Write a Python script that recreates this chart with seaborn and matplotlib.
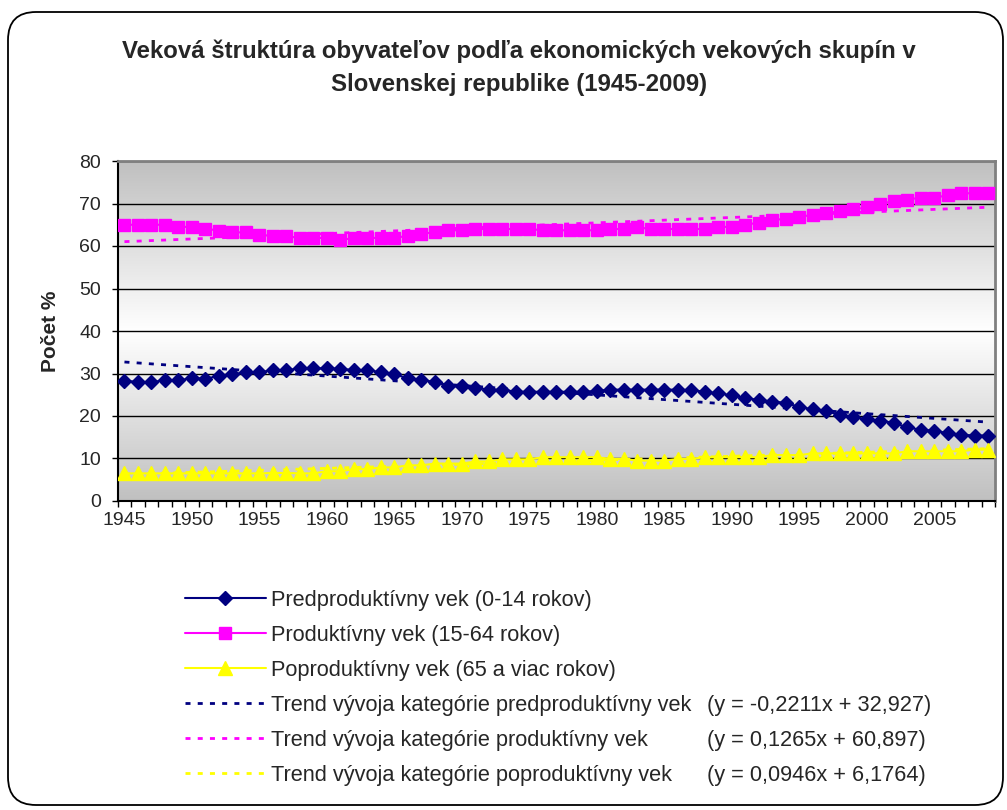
import numpy as np
import pandas as pd
import matplotlib.pyplot as plt
from matplotlib.colors import LinearSegmentedColormap
from matplotlib.patches import FancyBboxPatch
from matplotlib.transforms import IdentityTransform
import seaborn as sns

# data (share of population in %)
years = list(range(1945, 2010))
pre_productive = [28.3, 28.0, 28.0, 28.4, 28.4, 28.9, 28.8, 29.4, 29.8, 30.3,
                  30.3, 30.8, 30.8, 31.2, 31.2, 31.2, 31.1, 30.8, 30.8, 30.3,
                  29.8, 28.9, 28.5, 28.0, 27.1, 27.0, 26.7, 26.2, 26.2, 25.7,
                  25.7, 25.7, 25.7, 25.7, 25.7, 25.9, 26.2, 26.2, 26.2, 26.2,
                  26.2, 26.2, 26.1, 25.7, 25.3, 24.9, 24.2, 23.8, 23.4, 23.1,
                  22.1, 21.6, 21.2, 20.2, 19.7, 19.3, 18.9, 18.4, 17.3, 16.8,
                  16.5, 16.0, 15.6, 15.4, 15.4]
productive = [65.0, 65.0, 65.0, 65.0, 64.5, 64.5, 64.1, 63.6, 63.2, 63.2,
              62.7, 62.3, 62.3, 61.9, 61.9, 61.9, 61.4, 61.9, 61.9, 61.9,
              61.9, 62.4, 62.8, 63.3, 63.7, 63.7, 64.0, 64.0, 64.0, 64.0,
              64.0, 63.7, 63.7, 63.7, 63.7, 63.7, 64.0, 64.0, 64.4, 64.0,
              64.0, 64.0, 64.0, 64.0, 64.5, 64.5, 65.0, 65.5, 66.1, 66.4,
              66.9, 67.3, 67.7, 68.2, 68.6, 69.1, 70.0, 70.5, 70.9, 71.4,
              71.4, 71.9, 72.4, 72.4, 72.4]
post_productive = [6.5, 6.5, 6.5, 6.5, 6.5, 6.5, 6.5, 6.5, 6.5, 6.5,
                   6.5, 6.6, 6.6, 6.5, 6.5, 7.0, 7.0, 7.5, 7.5, 7.9,
                   7.9, 8.4, 8.4, 8.8, 8.8, 8.8, 9.3, 9.3, 9.8, 9.8,
                   9.8, 10.3, 10.3, 10.3, 10.3, 10.3, 9.9, 9.9, 9.5, 9.5,
                   9.5, 9.9, 9.9, 10.3, 10.3, 10.3, 10.3, 10.3, 10.8, 10.8,
                   10.8, 11.2, 11.2, 11.2, 11.2, 11.2, 11.2, 11.2, 11.7, 11.7,
                   11.7, 11.7, 11.7, 12.1, 12.1]

series_labels = ["Predproduktívny vek (0-14 rokov)",
                 "Produktívny vek (15-64 rokov)",
                 "Poproduktívny vek (65 a viac rokov)"]
trend_labels = ["Trend vývoja kategórie predproduktívny vek",
                "Trend vývoja kategórie produktívny vek",
                "Trend vývoja kategórie poproduktívny vek"]
trend_slopes = [-0.2211, 0.1265, 0.0946]
trend_intercepts = [32.927, 60.897, 6.1764]
trend_equations = ["(y = -0,2211x + 32,927)",
                   "(y = 0,1265x + 60,897)",
                   "(y = 0,0946x + 6,1764)"]

colors = ["#000080", "#ff00ff", "#ffff00"]
markers = ["D", "s", "^"]
marker_sizes = [7.5, 9, 9.5]

df = pd.DataFrame({"Rok": years,
                   "pre": pre_productive,
                   "prod": productive,
                   "post": post_productive})
df["x"] = np.arange(1, len(df) + 1)

sns.set_style("white")
plt.rcParams["font.family"] = ["Liberation Sans", "DejaVu Sans"]

W, H = 1007, 810
fig = plt.figure(figsize=(W / 100, H / 100), dpi=100)
ax = fig.add_axes([117.7 / W, 1 - 501 / H, (995 - 117.7) / W, (501 - 161) / H])

# grey-white-grey gradient of the plot area
bg = LinearSegmentedColormap.from_list("bg", ["#c0c0c0", "#ffffff", "#c0c0c0"])
ax.imshow(np.linspace(0, 1, 256).reshape(-1, 1), extent=[0, 1, 0, 1],
          transform=ax.transAxes, aspect="auto", cmap=bg, zorder=0)

# linear trend lines (coefficients from the chart legend)
for col, slope, icpt, c, lab in zip(["pre", "prod", "post"], trend_slopes,
                                    trend_intercepts, colors, trend_labels):
    df["trend_" + col] = slope * df["x"] + icpt
    sns.lineplot(data=df, x="Rok", y="trend_" + col, color=c, linewidth=2,
                 linestyle=(0, (1.8, 2.6)), ax=ax, label=lab, zorder=2)

for col, c, m, ms, lab in zip(["pre", "prod", "post"], colors, markers,
                              marker_sizes, series_labels):
    sns.lineplot(data=df, x="Rok", y=col, color=c, marker=m, markersize=ms,
                 markeredgecolor=c, markeredgewidth=1, linewidth=1.5,
                 ax=ax, label=lab, zorder=3)

handles, labels = ax.get_legend_handles_labels()
ax.get_legend().remove()
order = [3, 4, 5, 0, 1, 2]
handles = [handles[i] for i in order]
labels = [labels[i] for i in order]

ax.set_xlim(1944.5, 2009.5)
ax.set_ylim(0, 80)
ax.set_xticks(range(1945, 2010, 5))
ax.set_xticks(np.arange(1944.5, 2010, 1), minor=True)
ax.set_yticks(range(0, 81, 10))
ax.tick_params(axis="x", which="major", length=0, labelsize=14, pad=8)
ax.tick_params(axis="x", which="minor", bottom=True, length=4, width=1,
               color="black", direction="out")
ax.tick_params(axis="y", left=True, length=4, width=1, color="black",
               direction="out", labelsize=14, pad=8)
ax.yaxis.grid(True, color="black", linewidth=1)
ax.xaxis.grid(False)
ax.set_axisbelow(True)
ax.set_xlabel("")
ax.set_ylabel("")
for s in ["left", "bottom"]:
    ax.spines[s].set_color("black")
    ax.spines[s].set_linewidth(1.5)
for s in ["top", "right"]:
    ax.spines[s].set_color("#808080")
    ax.spines[s].set_linewidth(2)

fig.text(50 / W, 1 - 331 / H, "Počet %", rotation=90, fontsize=15,
         fontweight="bold", ha="center", va="center")

fig.text(519 / W, 1 - 68 / H,
         "Veková štruktúra obyvateľov podľa ekonomických vekových skupín v\n"
         "Slovenskej republike (1945-2009)",
         ha="center", va="center", fontsize=17.3, fontweight="bold",
         linespacing=1.55)

leg = fig.legend(handles, labels, loc="upper left",
                 bbox_to_anchor=(185 / W, 1 - 590 / H), frameon=False,
                 fontsize=15.7, handlelength=3.7, handletextpad=0.25,
                 labelspacing=0.64, borderpad=0, borderaxespad=0, numpoints=1)

# equations aligned in a column next to the trend entries
fig.canvas.draw()
for txt, eq in zip(leg.get_texts()[3:], trend_equations):
    bb = txt.get_window_extent()
    fig.text(707, bb.y0, eq, transform=IdentityTransform(), fontsize=15.7,
             ha="left", va="bottom")

fig.add_artist(FancyBboxPatch((8, 5), 995, 793,
                              boxstyle="round,pad=0,rounding_size=28",
                              transform=IdentityTransform(), fill=False,
                              edgecolor="black", linewidth=1.3))

fig.savefig("out.png", dpi=100)
